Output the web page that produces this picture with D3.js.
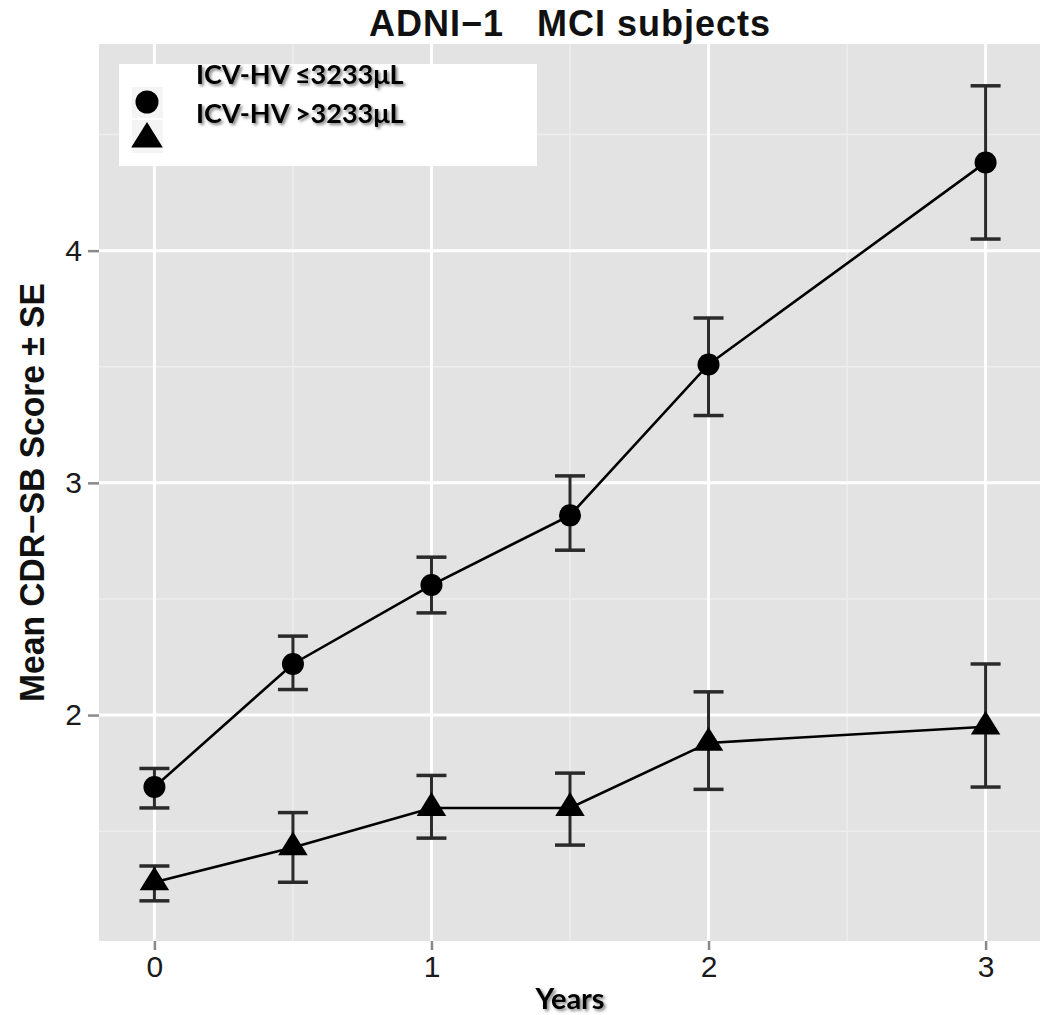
<!DOCTYPE html>
<html><head><meta charset="utf-8">
<script src="https://cdn.jsdelivr.net/npm/d3@7"></script>
<style>
html,body{margin:0;padding:0;background:#fff;}
svg{display:block;}
</style></head>
<body>
<script>
const titleText = "ADNI\u22121   MCI subjects";
const xLabel = "Years";
const yLabel = "Mean CDR\u2212SB Score \u00b1 SE";
const legendLabels = ["ICV-HV \u22643233\u03bcL", "ICV-HV >3233\u03bcL"];
const years = [0, 0.5, 1, 1.5, 2, 3];
const lowMean  = [1.69, 2.22, 2.56, 2.86, 3.51, 4.38];
const lowLower = [1.60, 2.11, 2.44, 2.71, 3.29, 4.05];
const lowUpper = [1.77, 2.34, 2.68, 3.03, 3.71, 4.71];
const highMean  = [1.28, 1.43, 1.60, 1.60, 1.88, 1.95];
const highLower = [1.20, 1.28, 1.47, 1.44, 1.68, 1.69];
const highUpper = [1.35, 1.58, 1.74, 1.75, 2.10, 2.22];
const xTicks = [0, 1, 2, 3];
const yTicks = [2, 3, 4];
const xMinor = [0.5, 1.5, 2.5];
const yMinor = [1.5, 2.5, 3.5, 4.5];

const W = 1040, H = 1015;
const P = {left: 99, right: 1041, top: 44, bottom: 941};
const svg = d3.select("body").append("svg").attr("width", W).attr("height", H);

const x = d3.scaleLinear().domain([-0.2, 3.2]).range([P.left, P.right]);
const y = d3.scaleLinear().domain([1.027, 4.89]).range([P.bottom, P.top]);

// panel
svg.append("rect").attr("x", P.left).attr("y", P.top)
  .attr("width", P.right - P.left).attr("height", P.bottom - P.top).attr("fill", "#e3e3e3");

const grid = svg.append("g");
grid.selectAll(".xmin").data(xMinor).join("line")
  .attr("x1", d => x(d)).attr("x2", d => x(d)).attr("y1", P.top).attr("y2", P.bottom)
  .attr("stroke", "#eeeeee").attr("stroke-width", 1.5);
grid.selectAll(".ymin").data(yMinor.filter(v => y(v) > P.top)).join("line")
  .attr("y1", d => y(d)).attr("y2", d => y(d)).attr("x1", P.left).attr("x2", P.right)
  .attr("stroke", "#eeeeee").attr("stroke-width", 1.5);
grid.selectAll(".xmaj").data(xTicks).join("line")
  .attr("x1", d => x(d)).attr("x2", d => x(d)).attr("y1", P.top).attr("y2", P.bottom)
  .attr("stroke", "#ffffff").attr("stroke-width", 3);
grid.selectAll(".ymaj").data(yTicks).join("line")
  .attr("y1", d => y(d)).attr("y2", d => y(d)).attr("x1", P.left).attr("x2", P.right)
  .attr("stroke", "#ffffff").attr("stroke-width", 3);

// axes
const xAxis = svg.append("g").attr("transform", `translate(0,${P.bottom})`)
  .call(d3.axisBottom(x).tickValues(xTicks).tickFormat(d3.format("d")).tickSize(9).tickPadding(6));
const yAxis = svg.append("g").attr("transform", `translate(${P.left},0)`)
  .call(d3.axisLeft(y).tickValues(yTicks).tickFormat(d3.format("d")).tickSize(11).tickPadding(6));
[xAxis, yAxis].forEach(a => {
  a.select(".domain").remove();
  a.selectAll(".tick line").attr("stroke", "#8a8a8a").attr("stroke-width", 2.5);
  a.selectAll(".tick text").attr("fill", "#1a1a1a")
    .style("font-family", "'Liberation Sans', Arial, sans-serif").style("font-size", "30px");
});

// series
const series = [
  {mean: lowMean, lower: lowLower, upper: lowUpper, shape: "circle"},
  {mean: highMean, lower: highLower, upper: highUpper, shape: "triangle"}
];
const triType = {draw(ctx, size) {
  const h = Math.sqrt(size) * 0.85, w = h * 0.62;
  ctx.moveTo(0, -h * 2 / 3);
  ctx.lineTo(w, h / 3);
  ctx.lineTo(-w, h / 3);
  ctx.closePath();
}};
const line = d3.line().x(d => x(d.x)).y(d => y(d.m));
const capW = 15;

series.forEach(s => {
  const pts = years.map((yr, i) => ({x: yr, m: s.mean[i], lo: s.lower[i], hi: s.upper[i]}));
  const g = svg.append("g");
  g.append("path").datum(pts).attr("d", line).attr("fill", "none")
    .attr("stroke", "#000").attr("stroke-width", 2.6);
  const eb = g.selectAll(".eb").data(pts).join("g");
  eb.append("line").attr("x1", d => x(d.x)).attr("x2", d => x(d.x))
    .attr("y1", d => y(d.lo)).attr("y2", d => y(d.hi)).attr("stroke", "#2a2a2a").attr("stroke-width", 3);
  eb.append("line").attr("x1", d => x(d.x) - capW).attr("x2", d => x(d.x) + capW)
    .attr("y1", d => y(d.lo)).attr("y2", d => y(d.lo)).attr("stroke", "#2a2a2a").attr("stroke-width", 3.5);
  eb.append("line").attr("x1", d => x(d.x) - capW).attr("x2", d => x(d.x) + capW)
    .attr("y1", d => y(d.hi)).attr("y2", d => y(d.hi)).attr("stroke", "#2a2a2a").attr("stroke-width", 3.5);
  if (s.shape === "circle") {
    g.selectAll(".pt").data(pts).join("circle")
      .attr("cx", d => x(d.x)).attr("cy", d => y(d.m)).attr("r", 11).attr("fill", "#000");
  } else {
    g.selectAll(".pt").data(pts).join("path")
      .attr("transform", d => `translate(${x(d.x)},${y(d.m)})`)
      .attr("d", d3.symbol().type(triType).size(784)).attr("fill", "#000");
  }
});

// shadow filter for Office-style text
const defs = svg.append("defs");
const f = defs.append("filter").attr("id", "sh").attr("x", "-5%").attr("y", "-20%").attr("width", "110%").attr("height", "140%");
f.append("feGaussianBlur").attr("in", "SourceAlpha").attr("stdDeviation", 1.5).attr("result", "b");
f.append("feOffset").attr("in", "b").attr("dx", 1.5).attr("dy", 1.5).attr("result", "o");
f.append("feComponentTransfer").attr("in", "o").attr("result", "o2")
  .append("feFuncA").attr("type", "linear").attr("slope", 0.5);
const fm = f.append("feMerge");
fm.append("feMergeNode").attr("in", "o2");
fm.append("feMergeNode").attr("in", "SourceGraphic");

// title and axis labels
svg.append("text").attr("x", (P.left + P.right) / 2).attr("y", 36).attr("text-anchor", "middle")
  .style("font-family", "'Liberation Sans', Arial, sans-serif").style("font-weight", "bold")
  .style("font-size", "36px").style("letter-spacing", "1px").attr("fill", "#111")
  .attr("xml:space", "preserve").text(titleText);
svg.append("text").attr("x", (P.left + P.right) / 2).attr("y", 1009).attr("text-anchor", "middle")
  .style("font-family", "Lato, 'Open Sans', sans-serif").style("font-weight", "bold")
  .style("font-size", "29px").attr("fill", "#000").attr("filter", "url(#sh)").text(xLabel);
svg.append("text").attr("transform", `translate(44,${(y(4.89) + y(1.027)) / 2}) rotate(-90) scale(0.96,1)`)
  .attr("text-anchor", "middle")
  .style("font-family", "'Liberation Sans', Arial, sans-serif").style("font-weight", "bold")
  .style("font-size", "35px").attr("fill", "#111").text(yLabel);

// legend
const lg = svg.append("g");
lg.append("rect").attr("x", 119).attr("y", 64).attr("width", 418).attr("height", 102).attr("fill", "#fff");
lg.append("rect").attr("x", 132).attr("y", 87).attr("width", 31).attr("height", 31).attr("fill", "#f4f4f4");
lg.append("rect").attr("x", 132).attr("y", 120).attr("width", 31).attr("height", 33).attr("fill", "#f4f4f4");
lg.append("circle").attr("cx", 147).attr("cy", 102).attr("r", 11.5).attr("fill", "#000");
lg.append("path").attr("transform", "translate(147,139)")
  .attr("d", d3.symbol().type(triType).size(900)).attr("fill", "#000");
lg.selectAll(".lt").data(legendLabels).join("text")
  .attr("x", 196).attr("y", (d, i) => 84 + i * 39)
  .style("font-family", "Lato, 'Open Sans', sans-serif").style("font-weight", "bold")
  .style("font-size", "27px").attr("fill", "#000").attr("filter", "url(#sh)").text(d => d);
</script>
</body></html>
